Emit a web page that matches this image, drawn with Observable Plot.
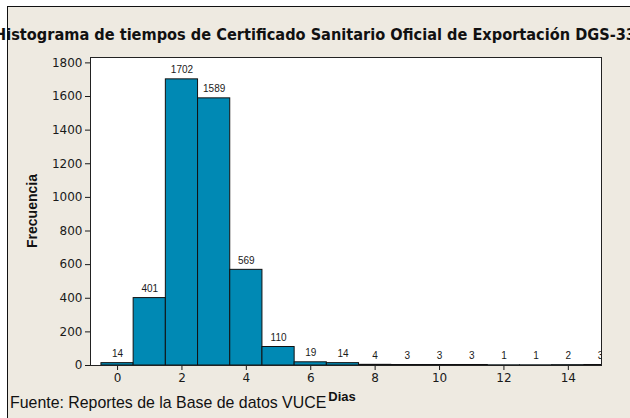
<!DOCTYPE html>
<html><head><meta charset="utf-8">
<script src="https://cdn.jsdelivr.net/npm/d3@7"></script>
<script src="https://cdn.jsdelivr.net/npm/@observablehq/plot@0.6"></script>
<style>
html,body{margin:0;padding:0;background:#fff;width:630px;height:418px;overflow:hidden}
#wrap{position:relative;width:630px;height:418px;overflow:hidden}
#bg{position:absolute;left:7px;top:6px;width:700px;height:500px;background:#EEEAE1;border-left:1px solid #111;border-top:1px solid #111}
#chart{position:absolute;left:0;top:0}
#labels{position:absolute;left:0;top:0;overflow:hidden}
</style></head><body>
<div id="wrap"><div id="bg"></div><div id="chart"></div>
<svg id="labels" width="630" height="418"></svg></div>
<script>
const dias = [0,1,2,3,4,5,6,7,8,9,10,11,12,13,14,15];
const frecuencia = [14,401,1702,1589,569,110,19,14,4,3,3,3,1,1,2,3];
const xTicks = [0,2,4,6,8,10,12,14];
const yTicks = [0,200,400,600,800,1000,1200,1400,1600,1800];
const titulo = "Histograma de tiempos de Certificado Sanitario Oficial de Exportación DGS-33";
const ejeX = "Dias";
const ejeY = "Frecuencia";
const fuente = "Fuente: Reportes de la Base de datos VUCE";

const data = dias.map((d, i) => ({dia: d, n: frecuencia[i]}));

const plot = Plot.plot({
  width: 630, height: 418,
  marginLeft: 90, marginRight: 29, marginTop: 57, marginBottom: 53,
  style: {background: "transparent", fontFamily: "DejaVu Sans", fontSize: "12px", color: "#1a1a1a", overflow: "visible"},
  x: {domain: [-0.84, 15.03], ticks: xTicks, tickFormat: d3.format("d"), tickSize: 5, tickPadding: 3, label: null},
  y: {domain: [0, 1832], ticks: yTicks, tickFormat: d3.format("d"), tickSize: 5, tickPadding: 3, label: null},
  marks: [
    Plot.frame({fill: "white"}),
    Plot.rectY(data, {x1: d => d.dia - 0.5, x2: d => d.dia + 0.5, y: "n", fill: "#0089B4", stroke: "#111", strokeWidth: 1, clip: true}),
    Plot.text(data, {x: "dia", y: "n", text: d => String(d.n), dy: -6, lineAnchor: "bottom", fontSize: 10, fontFamily: "Liberation Sans", fill: "#1a1a1a", clip: true}),
    Plot.frame({stroke: "#222", strokeWidth: 1})
  ]
});
document.getElementById("chart").appendChild(plot);

const svg = d3.select("#labels");
svg.append("text").text(titulo)
  .attr("x", -6).attr("y", 40)
  .attr("font-family", "DejaVu Sans").attr("font-weight", "bold").attr("font-size", 16)
  .attr("textLength", 642).attr("lengthAdjust", "spacingAndGlyphs").attr("fill", "#111");
svg.append("text").text(fuente)
  .attr("x", 10).attr("y", 407.5)
  .attr("font-family", "Liberation Sans").attr("font-size", 15.9).attr("fill", "#111");
svg.append("text").text(ejeX)
  .attr("x", 342).attr("y", 401).attr("text-anchor", "middle")
  .attr("font-family", "Liberation Sans").attr("font-weight", "bold").attr("font-size", 13).attr("fill", "#111");
svg.append("text").text(ejeY)
  .attr("transform", "translate(37,211) rotate(-90)").attr("text-anchor", "middle")
  .attr("font-family", "Liberation Sans").attr("font-weight", "bold").attr("font-size", 14).attr("fill", "#111");
</script>
</body></html>
